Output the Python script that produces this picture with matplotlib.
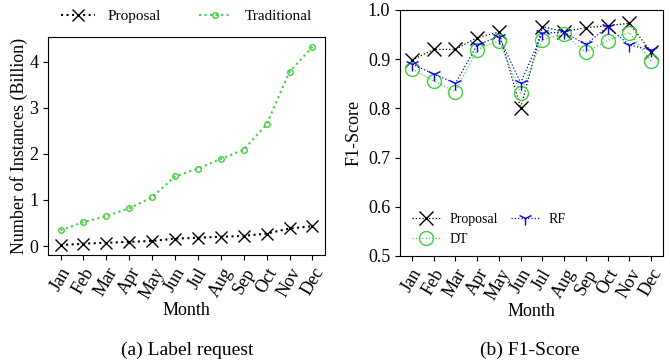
import matplotlib
matplotlib.use("Agg")
from matplotlib import pyplot as plt

plt.rcParams['font.family'] = ['Liberation Serif', 'DejaVu Serif']
plt.rcParams['mathtext.fontset'] = 'stix'

months = ['Jan', 'Feb', 'Mar', 'Apr', 'May', 'Jun',
          'Jul', 'Aug', 'Sep', 'Oct', 'Nov', 'Dec']

# (a) label requests, billions of instances
requests_proposal = [0.02, 0.05, 0.07, 0.09, 0.11, 0.16, 0.18, 0.20, 0.22, 0.27, 0.38, 0.43]
requests_traditional = [0.34, 0.52, 0.65, 0.82, 1.06, 1.51, 1.68, 1.89, 2.09, 2.64, 3.78, 4.32]

# (b) F1-score per month
f1_proposal = [0.898, 0.920, 0.920, 0.944, 0.955, 0.801, 0.966, 0.956, 0.964, 0.968, 0.973, 0.915]
f1_rf = [0.890, 0.870, 0.851, 0.929, 0.946, 0.852, 0.953, 0.955, 0.930, 0.966, 0.929, 0.918]
f1_dt = [0.880, 0.856, 0.834, 0.919, 0.938, 0.831, 0.940, 0.951, 0.914, 0.938, 0.954, 0.896]

GREEN = '#3ecf3e'
x = list(range(len(months)))

fig = plt.figure(figsize=(6.7, 3.64), dpi=100)
ax1 = fig.add_axes([48 / 670, 109 / 364, 277 / 670, 218 / 364])
ax2 = fig.add_axes([400 / 670, 108 / 364, 263 / 670, 246 / 364])

# left panel
ax1.plot(x, requests_proposal, ls=':', c='k', lw=1.5, marker='x', ms=8.5,
         label='Proposal')
ax1.plot(x, requests_traditional, ls=':', c=GREEN, lw=1.5, marker='o', ms=4,
         mfc='none', mew=1.0, label='Traditional')
ax1.set_ylabel('Number of Instances (Billion)', fontsize=13, labelpad=1)
ax1.set_xlabel('Month', fontsize=13, labelpad=0)
ax1.set_yticks([0, 1, 2, 3, 4])
ax1.legend(loc='lower center', bbox_to_anchor=(0.5, 1.0), ncol=2,
           frameon=False, fontsize=11, columnspacing=2.5, handlelength=2.2,
           borderaxespad=0.5)

# right panel
ax2.plot(x, f1_proposal, ls=':', c='k', lw=0.9, marker='x', ms=10, mew=1.0,
         label='Proposal')
ax2.plot(x, f1_dt, ls=':', c=GREEN, lw=0.9, marker='o', ms=10, mfc='none',
         mew=1.0, label='DT')
ax2.plot(x, f1_rf, ls=':', c='blue', lw=0.9, marker='1', ms=10, mew=1.0,
         label='RF')
ax2.set_ylim(0.5, 1.0)
ax2.set_ylabel('F1-Score', fontsize=13)
ax2.set_xlabel('Month', fontsize=13, labelpad=0)
ax2.legend(loc='lower left', ncol=2, frameon=False, fontsize=10,
           bbox_to_anchor=(0.0, -0.01), columnspacing=0.9, handlelength=2.0,
           handletextpad=0.7)

for ax in (ax1, ax2):
    ax.set_xticks(x)
    ax.set_xticklabels(months, rotation=60)
    ax.tick_params(labelsize=13, length=3.5, width=0.8)
    for sp in ax.spines.values():
        sp.set_linewidth(0.8)

fig.text(187 / 670, 14 / 364, '(a) Label request', ha='center', va='center',
         fontsize=14)
fig.text(530 / 670, 14 / 364, '(b) F1-Score', ha='center', va='center',
         fontsize=14)

fig.savefig('out.png', dpi=100)
